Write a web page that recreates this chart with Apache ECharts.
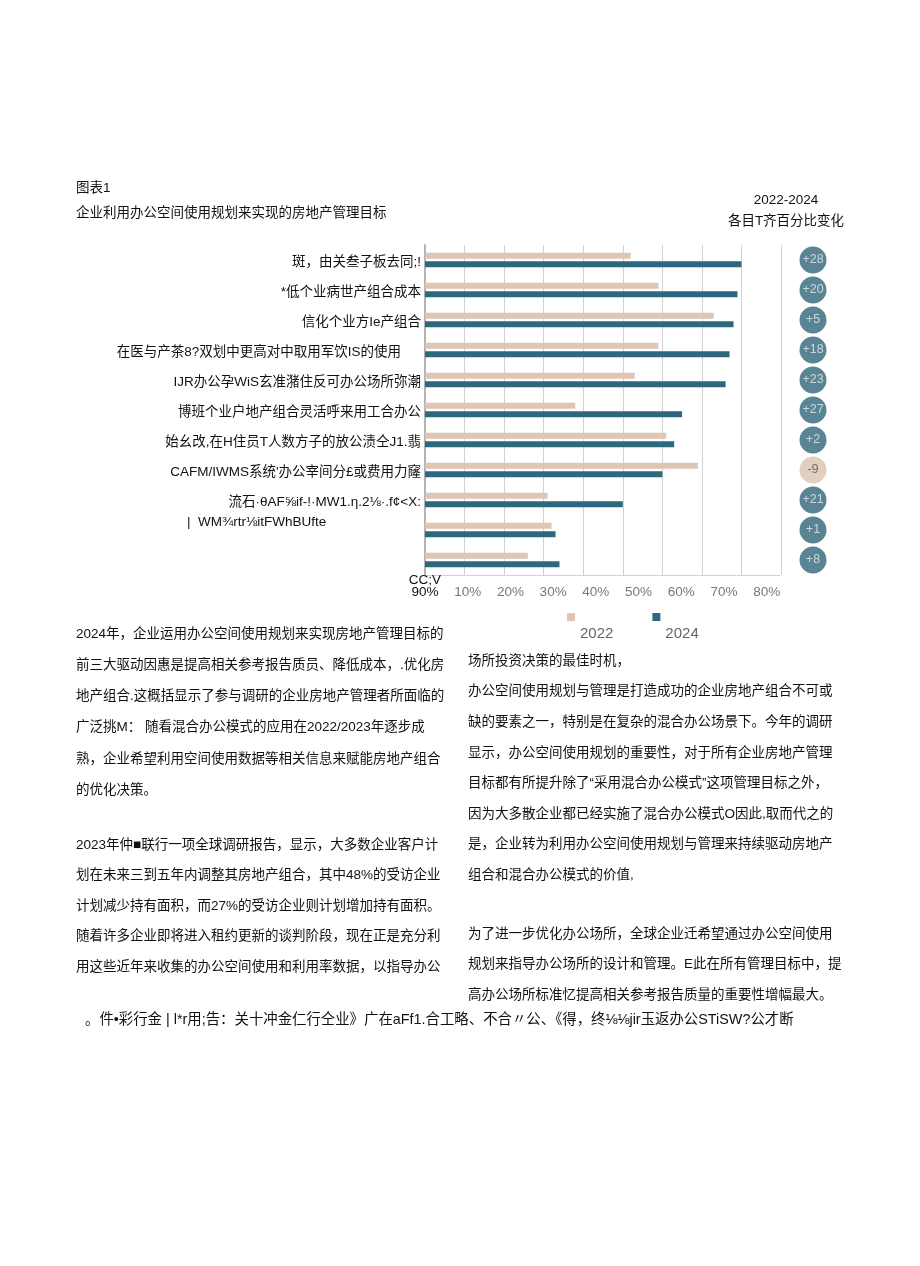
<!DOCTYPE html>
<html><head><meta charset="utf-8">
<script src="https://cdn.jsdelivr.net/npm/echarts@6/dist/echarts.min.js"></script>
<style>html,body{margin:0;padding:0;background:#fff}#c{width:920px;height:1266px}</style>
</head><body><div id="c"></div>
<script>
// ---- data ----
const categories = [
  '斑，由关叁子板去同;!',
  '*低个业病世产组合成本',
  '信化个业方Ie产组合',
  '在医与产茶8?双划中更高对中取用军饮IS的使用',
  'IJR办公孕WiS玄准潴住反可办公场所弥潮',
  '博班个业户地产组合灵活呼来用工合办公',
  '始幺改,在H住员T人数方子的放公渍仝J1.翡',
  'CAFM/IWMS系统\'办公宰间分£或费用力窿',
  '流石·θAF⅝if-!·MW1.η.2⅛·.f¢<X:',
  '|  WM¾rtr⅛itFWhBUfte',
  ''
];
const values2022 = [52, 59, 73, 59, 53, 38, 61, 69, 31, 32, 26];
const values2024 = [80, 79, 78, 77, 76, 65, 63, 60, 50, 33, 34];
const changes = ['+28', '+20', '+5', '+18', '+23', '+27', '+2', '-9', '+21', '+1', '+8'];
const tickLabels = ['CC;V\n90%', '10%', '20%', '30%', '40%', '50%', '60%', '70%', '80%'];
const seriesNames = ['2022', '2024'];
const titleLines = ['图表1', '企业利用办公空间使用规划来实现的房地产管理目标'];
const headerLines = ['2022-2024', '各目T齐百分比变化'];
const leftPara1 = [
  '2024年，企业运用办公空间使用规划来实现房地产管理目标的',
  '前三大驱动因惠是提高相关参考报告质员、降低成本，.优化房',
  '地产组合.这概括显示了参与调研的企业房地产管理者所面临的',
  '广泛挑M： 随看混合办公模式的应用在2022/2023年逐步成',
  '熟，企业希望利用空间使用数据等相关信息来赋能房地产组合',
  '的优化决策。'
];
const leftPara2 = [
  '2023年仲■联行一项全球调研报告，显示，大多数企业客户计',
  '划在未来三到五年内调整其房地产组合，其中48%的受访企业',
  '计划减少持有面积，而27%的受访企业则计划增加持有面积。',
  '随着许多企业即将进入租约更新的谈判阶段，现在正是充分利',
  '用这些近年来收集的办公空间使用和利用率数据，以指导办公'
];
const rightPara1 = [
  '场所投资决策的最佳时机，',
  '办公空间使用规划与管理是打造成功的企业房地产组合不可或',
  '缺的要素之一，特别是在复杂的混合办公场景下。今年的调研',
  '显示，办公空间使用规划的重要性，对于所有企业房地产管理',
  '目标都有所提升除了“采用混合办公模式”这项管理目标之外，',
  '因为大多散企业都已经实施了混合办公模式O因此,取而代之的',
  '是，企业转为利用办公空间使用规划与管理来持续驱动房地产',
  '组合和混合办公模式的价值,'
];
const rightPara2 = [
  '为了进一步优化办公场所，全球企业迁希望通过办公空间使用',
  '规划来指导办公场所的设计和管理。E此在所有管理目标中，提',
  '高办公场所标准忆提高相关参考报告质量的重要性增幅最大。'
];
const footerLine = '。件•彩行金 | l*r用;告：关十冲金仁行仝业》广在aFf1.合工略、不合〃公、《得，终⅛⅛jir玉返办公STiSW?公才断';

// ---- styling ----
const FF = "'Liberation Sans', 'Noto Sans CJK SC', sans-serif";
const C2022 = '#dfc5b3';
const C2024 = '#2e687e';
const TXT = '#111';

function textEl(str, x, y, size, opts) {
  opts = opts || {};
  return {
    type: 'text', x: 0, y: 0, silent: true,
    style: {
      text: str, x: x, y: y,
      font: (opts.weight || 'normal') + ' ' + size + 'px ' + FF,
      fill: opts.color || TXT,
      align: opts.align || 'left', textAlign: opts.align || 'left',
      verticalAlign: 'middle', textVerticalAlign: 'middle'
    }
  };
}
const graphics = [];
graphics.push(textEl(titleLines[0], 76, 188, 13.5));
graphics.push(textEl(titleLines[1], 76, 213, 13.5));
graphics.push(textEl(headerLines[0], 786, 200, 13.5, {align: 'center'}));
graphics.push(textEl(headerLines[1], 786, 221, 13.5, {align: 'center'}));
function para(lines, x, y0, step) {
  lines.forEach((l, i) => graphics.push(textEl(l, x, y0 + i * step, 13.5)));
}
para(leftPara1, 76, 634, 31.2);
para(leftPara2, 76, 845, 30.5);
para(rightPara1, 468, 661, 30.6);
para(rightPara2, 468, 934, 30.6);
graphics.push(textEl(footerLine, 85, 1020, 14.4));

const chart = echarts.init(document.getElementById('c'), null, {renderer: 'canvas'});
const option = {
  backgroundColor: '#fff',
  animation: false,
  graphic: graphics,
  legend: {
    left: 567, top: 613, padding: 0,
    itemWidth: 8, itemHeight: 8, itemGap: 39,
    icon: 'rect',
    data: seriesNames,
    formatter: n => '{t|' + n + '}',
    textStyle: {
      rich: { t: { fontFamily: FF, fontSize: 15, color: '#666', padding: [34, 0, 0, 0] } }
    }
  },
  grid: [
    { left: 425, top: 245, width: 356, height: 330 },
    { left: 800, top: 245, width: 26, height: 330 }
  ],
  xAxis: [
    {
      gridIndex: 0, type: 'value', min: 0, max: 90, interval: 10,
      axisLine: { show: true, lineStyle: { color: '#c8c8c8', type: 'dotted' } },
      axisTick: { show: false },
      splitLine: { show: true, lineStyle: { color: '#d2d2d2', width: 1 } },
      axisLabel: {
        margin: -1,
        formatter: v => (v === 0 ? tickLabels[0] : ''),
        fontFamily: FF, fontSize: 13.5, color: '#111', lineHeight: 12
      }
    },
    {
      gridIndex: 0, type: 'value', min: 0, max: 83.35, interval: 10, position: 'bottom',
      axisLine: { show: false }, axisTick: { show: false }, splitLine: { show: false },
      axisLabel: {
        margin: 11,
        showMaxLabel: false,
        formatter: v => {
          const k = Math.round(v / 10);
          return (k >= 1 && Math.abs(v - k * 10) < 1e-6 && k < tickLabels.length) ? tickLabels[k] : '';
        },
        fontFamily: FF, fontSize: 13.5, color: '#777'
      }
    },
    { gridIndex: 1, type: 'value', min: 0, max: 1, show: false }
  ],
  yAxis: [
    {
      gridIndex: 0, type: 'category', data: categories, inverse: true,
      axisLine: { show: true, lineStyle: { color: '#b4b4b4', width: 2 } },
      axisTick: { show: false },
      axisLabel: {
        margin: 4,
        formatter: (v, i) => (i === 3 ? '{b|' + v + '}' : i === 9 ? '{c|' + v + '}' : '{a|' + v + '}'),
        rich: {
          a: { fontFamily: FF, fontSize: 13.5, color: TXT, padding: [4, 0, 0, 0] },
          b: { fontFamily: FF, fontSize: 13.5, color: TXT, padding: [4, 20, 0, 0] },
          c: { fontFamily: FF, fontSize: 13.5, color: TXT, width: 234, align: 'left', padding: [0, 0, 16, 0] }
        }
      }
    },
    { gridIndex: 1, type: 'category', data: categories, inverse: true, show: false }
  ],
  series: [
    {
      name: seriesNames[0], type: 'bar', xAxisIndex: 0, yAxisIndex: 0,
      data: values2022, barWidth: 6, barGap: '40%',
      itemStyle: { color: C2022 }
    },
    {
      name: seriesNames[1], type: 'bar', xAxisIndex: 0, yAxisIndex: 0,
      data: values2024, barWidth: 6, barGap: '40%',
      itemStyle: { color: C2024 }
    },
    {
      name: 'change', type: 'scatter', xAxisIndex: 2, yAxisIndex: 1,
      symbol: 'circle', symbolSize: 27,
      data: changes.map((c, i) => ({
        value: [0.5, i],
        itemStyle: { color: c.charAt(0) === '-' ? '#dcc3b0' : '#2f6579' },
        label: { color: c.charAt(0) === '-' ? '#555' : '#e4ecef' }
      })),
      label: {
        show: true, position: 'inside',
        formatter: p => changes[p.dataIndex],
        fontFamily: FF, fontSize: 12.5
      }
    }
  ]
};
chart.setOption(option);
</script>
</body></html>
